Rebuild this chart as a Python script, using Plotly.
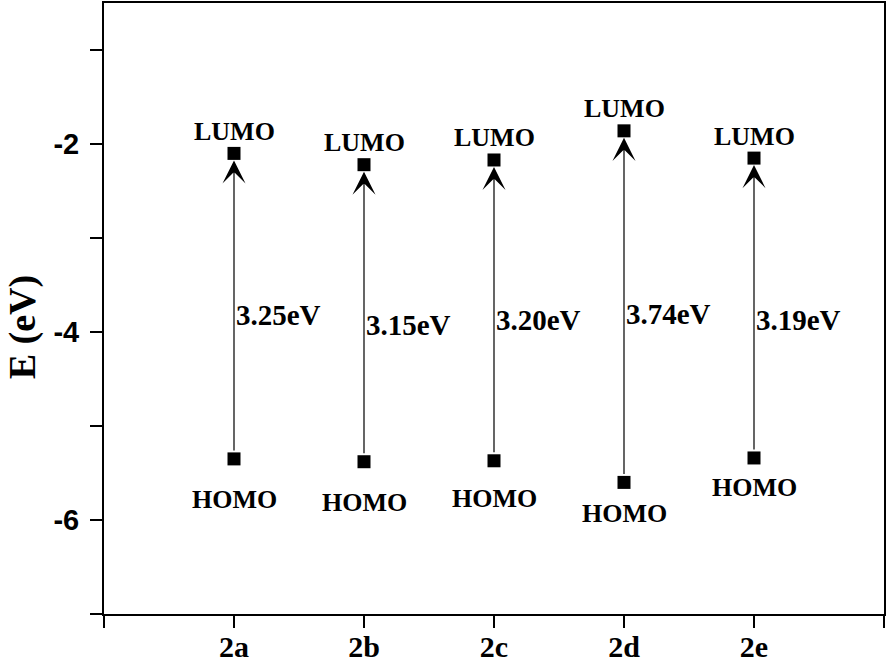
import plotly.graph_objects as go

# data
compounds = ["2a", "2b", "2c", "2d", "2e"]
lumo = [-2.10, -2.22, -2.17, -1.86, -2.15]
homo = [-5.35, -5.38, -5.37, -5.60, -5.34]
gap_labels = ["3.25eV", "3.15eV", "3.20eV", "3.74eV", "3.19eV"]

xpos = list(range(1, len(compounds) + 1))

# label offsets (pixels), tuned to the reference
homo_dy = [-41, -41, -38, -31, -30]
gap_dy = [-9, -12, -10, -7, -12]

serif = "Liberation Serif"

fig = go.Figure()

fig.add_trace(go.Scatter(
    x=xpos + xpos,
    y=lumo + homo,
    mode="markers",
    marker=dict(symbol="square", size=13, color="black"),
    showlegend=False,
    hoverinfo="skip",
))

for i, x in enumerate(xpos):
    # arrow from HOMO to LUMO
    fig.add_annotation(
        x=x, y=lumo[i], ax=x, ay=homo[i],
        xref="x", yref="y", axref="x", ayref="y",
        showarrow=True, arrowhead=3, arrowsize=3.2, arrowwidth=1.2,
        arrowcolor="black", standoff=7, startstandoff=7, text="",
    )
    fig.add_annotation(
        x=x, y=lumo[i], text="LUMO", showarrow=False, yshift=22,
        font=dict(family=serif, size=26, color="black", weight="bold"),
    )
    fig.add_annotation(
        x=x, y=homo[i], text="HOMO", showarrow=False, yshift=homo_dy[i],
        font=dict(family=serif, size=26, color="black", weight="bold"),
    )
    fig.add_annotation(
        x=x, y=(lumo[i] + homo[i]) / 2, text=gap_labels[i], showarrow=False,
        xanchor="left", xshift=0, yshift=gap_dy[i],
        font=dict(family=serif, size=29, color="black", weight="bold"),
    )

# y-axis title as a rotated annotation
fig.add_annotation(
    x=-0.104, y=0.469, xref="paper", yref="paper", text="E (eV)",
    xanchor="center", yanchor="middle",
    textangle=-90, showarrow=False, borderpad=0,
    font=dict(family=serif, size=38, color="black", weight="bold"),
)

fig.update_layout(
    width=886, height=663,
    margin=dict(l=104, r=2, t=3, b=49),
    plot_bgcolor="white", paper_bgcolor="white",
    showlegend=False,
    xaxis=dict(
        range=[0, 6],
        tickvals=[0] + xpos + [6],
        ticktext=[""] + compounds + [""],
        ticks="outside", ticklen=12, tickwidth=2, tickcolor="black",
        showline=True, linewidth=2, linecolor="black", mirror=True,
        showgrid=False, zeroline=False, automargin=False,
        ticklabelstandoff=-7,
        tickfont=dict(family=serif, size=30, color="black", weight="bold"),
    ),
    yaxis=dict(
        range=[-7, -0.5],
        tickvals=[-7, -6, -5, -4, -3, -2, -1],
        ticktext=["", "-6", "", "-4", "", "-2", ""],
        ticks="outside", ticklen=12, tickwidth=2, tickcolor="black",
        showline=True, linewidth=2, linecolor="black", mirror=True,
        showgrid=False, zeroline=False, automargin=False,
        ticklabelstandoff=5,
        tickfont=dict(family="Liberation Sans", size=29, color="black", weight="bold"),
    ),
)

fig.write_html("out.html", config={"displayModeBar": False},
               post_script="document.body.style.margin='0';")
